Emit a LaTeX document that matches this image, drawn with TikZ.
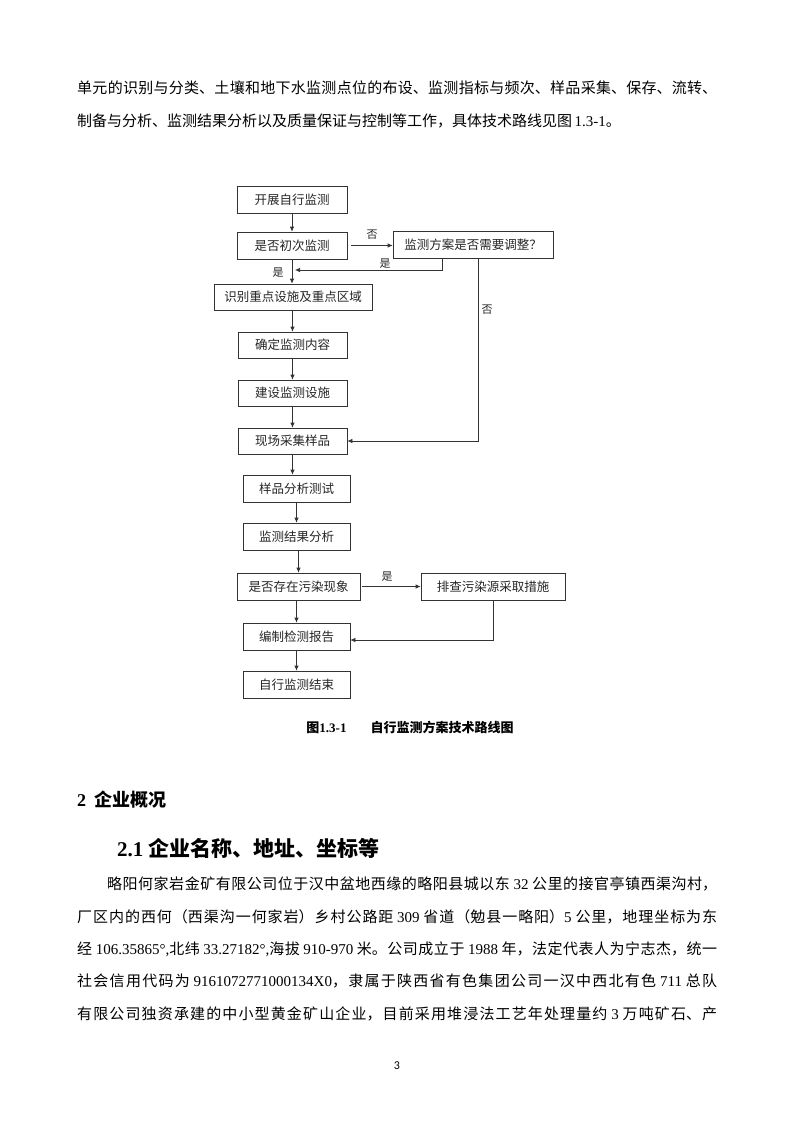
\documentclass[tikz,border=0pt]{standalone}
\usepackage{fontspec}
\setmainfont{Liberation Serif}
\newfontfamily\cjk{Noto Sans CJK SC}
\newfontfamily\carl{Carlito}
\usetikzlibrary{arrows.meta}
\XeTeXlinebreaklocale "zh"
\XeTeXlinebreakskip=0pt plus 4pt minus 0.3pt
\newcommand\R[1]{{\rmfamily #1}}
\newcommand\jline[2]{\parbox{#1}{\tolerance=10000\parfillskip=0pt #2}}
\tikzset{
  fbox/.style={draw=black!80, line width=0.7pt, inner sep=0pt, font=\cjk\fontsize{12.5}{12.5}\selectfont, text=black!85},
  flow/.style={draw=black!80, line width=0.7pt, -{Latex[length=5pt,width=4.5pt]}},
  lab/.style={font=\cjk\fontsize{11}{11}\selectfont, text=black!85, inner sep=0pt},
  body/.style={anchor=west, inner sep=0pt, font=\cjk\fontsize{15}{15}\selectfont},
}
\begin{document}
\begin{tikzpicture}[x=1pt,y=-1pt]
\useasboundingbox (0,0) rectangle (793,1122);
\fill[white] (0,0) rectangle (793,1122);

% top text
\node[body] (t1) at (77,88) {\jline{640pt}{单元的识别与分类、土壤和地下水监测点位的布设、监测指标与频次、样品采集、保存、流转、}};
\node[body] (t2) at (77,121) {制备与分析、监测结果分析以及质量保证与控制等工作，具体技术路线见图\,\R{1.3-1}。};

% flowchart
\node[fbox, minimum width=110pt, minimum height=27pt] (b1) at (292,199.5) {开展自行监测};
\node[fbox, minimum width=110pt, minimum height=27pt] (b2) at (292,245.5) {是否初次监测};
\node[fbox, minimum width=160pt, minimum height=27pt] (b3) at (473,244.5) {监测方案是否需要调整？};
\node[fbox, minimum width=158pt, minimum height=26pt] (b4) at (293,297) {识别重点设施及重点区域};
\node[fbox, minimum width=109pt, minimum height=26pt] (b5) at (292.5,345) {确定监测内容};
\node[fbox, minimum width=109pt, minimum height=26pt] (b6) at (292.5,393) {建设监测设施};
\node[fbox, minimum width=109pt, minimum height=26pt] (b7) at (292.5,441) {现场采集样品};
\node[fbox, minimum width=107pt, minimum height=27pt] (b8) at (296.5,488.5) {样品分析测试};
\node[fbox, minimum width=107pt, minimum height=27pt] (b9) at (296.5,536.5) {监测结果分析};
\node[fbox, minimum width=123pt, minimum height=27pt] (b10) at (298.5,586.5) {是否存在污染现象};
\node[fbox, minimum width=144pt, minimum height=27pt] (b11) at (493,586.5) {排查污染源采取措施};
\node[fbox, minimum width=107pt, minimum height=27pt] (b12) at (296.5,636.5) {编制检测报告};
\node[fbox, minimum width=107pt, minimum height=27pt] (b13) at (296.5,684.5) {自行监测结束};

\coordinate (c1) at (442,270);
\coordinate (c2) at (295,270);
\coordinate (c3) at (478,441);
\coordinate (c4) at (493,640);

\draw[flow] (b1) -- (b2);
\draw[flow] (b2) -- (b2.south |- b4.north);
\draw[flow, shorten <=4pt] (b2.east) -- (b2.east -| b3.west);
\draw[flow] (b3.south -| c1) -- (c1) -- (c2);
\draw[flow] (b3.south -| c3) -- (c3) -- (b7.east |- c3);
\draw[flow] (b4.south -| b5) -- (b5);
\draw[flow] (b5) -- (b6);
\draw[flow] (b6) -- (b7);
\draw[flow] (b7.south) -- (b7.south |- b8.north);
\draw[flow] (b8) -- (b9);
\draw[flow] (b9.south -| b10) -- (b10);
\draw[flow] (b10.south -| b12) -- (b12);
\draw[flow, shorten <=2pt] (b10.east) -- (b10.east -| b11.west);
\draw[flow] (b11.south -| c4) -- (c4) -- (b12.east |- c4);
\draw[flow] (b12) -- (b13);

\node[lab] (l1) at (372,235) {否};
\node[lab] (l2) at (385,264) {是};
\node[lab] (l3) at (278,273) {是};
\node[lab] (l4) at (487,310) {否};
\node[lab] (l5) at (387,577) {是};

% caption
\node[inner sep=0pt, font=\cjk\bfseries\fontsize{13}{13}\selectfont] (cap) at (410,727) {图\R{\bfseries 1.3-1}\hspace{24pt}自行监测方案技术路线图};

% headings
\node[anchor=west, inner sep=0pt, font=\cjk\bfseries\fontsize{18}{18}\selectfont] (h1) at (77,800) {\R{\bfseries 2}\hspace{8pt}企业概况};
\node[anchor=west, inner sep=0pt, font=\cjk\bfseries\fontsize{21}{21}\selectfont] (h2) at (117,848) {\R{\bfseries 2.1}\hspace{5pt}企业名称、地址、坐标等};

% paragraph
\node[body] (p1) at (107,884) {\jline{610pt}{略阳何家岩金矿有限公司位于汉中盆地西缘的略阳县城以东 \R{32} 公里的接官亭镇西渠沟村，}};
\node[body] (p2) at (77,917) {\jline{640pt}{厂区内的西何（西渠沟一何家岩）乡村公路距 \R{309} 省道（勉县一略阳）\R{5} 公里，地理坐标为东}};
\node[body] (p3) at (77,949) {\jline{640pt}{经 \R{106.35865°,}北纬 \R{33.27182°,}海拔 \R{910-970} 米。公司成立于 \R{1988} 年，法定代表人为宁志杰，统一}};
\node[body] (p4) at (77,981) {\jline{640pt}{社会信用代码为 \R{9161072771000134X0}，隶属于陕西省有色集团公司一汉中西北有色 \R{711} 总队}};
\node[body] (p5) at (77,1014) {\jline{640pt}{有限公司独资承建的中小型黄金矿山企业，目前采用堆浸法工艺年处理量约 \R{3} 万吨矿石、产}};

\node[inner sep=0pt, font=\carl\fontsize{12}{12}\selectfont] (pg) at (397,1066) {3};
\end{tikzpicture}
\end{document}
